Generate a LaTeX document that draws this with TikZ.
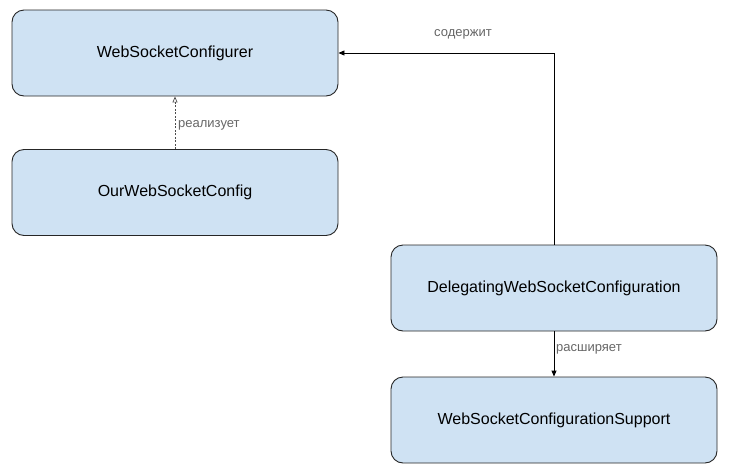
\documentclass[tikz,border=0pt]{standalone}
\usepackage{fontspec}
\setmainfont{Liberation Sans}
\usetikzlibrary{arrows.meta}
\definecolor{boxfill}{HTML}{CFE2F3}
\definecolor{labelgray}{HTML}{666666}
\tikzset{
  cls/.style={draw=black!85, fill=boxfill, rounded corners=12pt, line width=0.9pt,
    minimum width=326pt, minimum height=86pt, font=\fontsize{16}{19}\selectfont, inner sep=0pt},
  rel/.style={line width=0.9pt, -{Triangle[length=6pt,width=5pt]}},
  impl/.style={line width=0.7pt, dash pattern=on 2pt off 1.5pt, draw=black!70, -{Triangle[open,length=6pt,width=5pt]}},
  lbl/.style={text=labelgray, font=\fontsize{13}{15}\selectfont, inner sep=0pt}
}
\begin{document}
\begin{tikzpicture}[x=1pt,y=-1pt]
\useasboundingbox (0,0) rectangle (729,472);
\node[cls] (conf) at (175,53) {WebSocketConfigurer};
\node[cls] (our) at (175,192.5) {OurWebSocketConfig};
\node[cls] (deleg) at (554,288) {DelegatingWebSocketConfiguration};
\node[cls] (supp) at (554,420) {WebSocketConfigurationSupport};
\draw[impl] (our.north) -- (conf.south);
\draw[rel] (deleg.north) |- (conf.east);
\draw[rel] (deleg.south) -- (supp.north);
\node[lbl, anchor=west] (l1) at (178,125) {реализует};
\node[lbl] (l2) at (463,34) {содержит};
\node[lbl, anchor=west] (l3) at (556,349) {расширяет};
\end{tikzpicture}
\end{document}
